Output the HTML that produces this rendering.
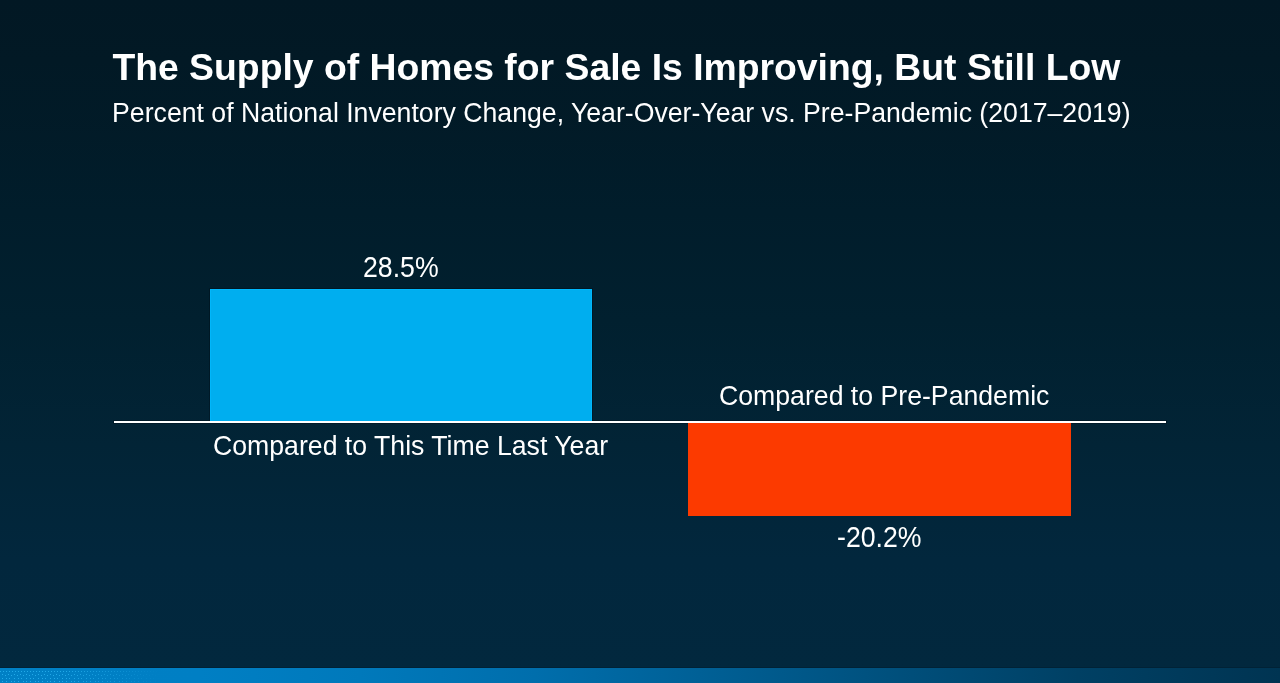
<!DOCTYPE html>
<html lang="en">
<head>
<meta charset="utf-8">
<title>The Supply of Homes for Sale Is Improving, But Still Low</title>
<style>
  html, body { margin: 0; padding: 0; }
  body {
    width: 1280px; height: 683px; overflow: hidden; position: relative;
    font-family: "Liberation Sans", sans-serif;
    color: #ffffff;
    background: linear-gradient(to bottom,
      #021824 0px, #021925 60px, #011D2B 212px, #01202F 320px,
      #022436 445px, #02273D 560px, #02283E 668px);
  }
  .abs { position: absolute; white-space: nowrap; line-height: 1; margin: 0; }
  #title { left: 112.4px; top: 48.8px; font-size: 37.33px; font-weight: bold; }
  #subtitle { left: 112.1px; top: 99.8px; font-size: 26.67px; font-weight: normal; }
  #bar-blue { left: 210px; top: 289px; width: 382px; height: 132px; background: #00AEEF;
    /* faint sharpening halo visible in the reference */
    box-shadow: 0 0 0 1px rgba(0,6,12,.30), inset 1px 0 0 #00B7FB, inset -1px 0 0 #00B7FB, inset 0 1px 0 #00B7FB; }
  #bar-orange { left: 688px; top: 423px; width: 383px; height: 93px; background: #FC3A00; }
  #axis { left: 114px; top: 421px; width: 1052px; height: 2px; background: #ffffff; }
  #axis-halo { left: 113px; top: 420px; width: 1054px; height: 4px; background: rgba(0,6,12,.30); }
  .lbl { font-size: 26.67px; }
  /* reference glyphs are slightly taller than Liberation Sans at equal width:
     digits/caps need ~9%, mixed-case text ~3% (ascenders already tall) */
  .tall { transform: scaleY(1.09); transform-origin: 0 84.64%; }
  .tall-lc { transform: scaleY(1.03); transform-origin: 0 84.64%; }
  #val-blue { left: 363px; top: 255px; }
  #val-orange { left: 837px; top: 524.9px; }
  #cat-blue { left: 213px; top: 432.7px; }
  #cat-orange { left: 719px; top: 382.7px; }
  #strip { left: 0; top: 668px; width: 1280px; height: 15px;
    background: linear-gradient(to right,
      #0080C5 0px, #007FC4 200px, #0079BB 360px, #006EAC 535px,
      #00598B 782px, #004064 1078px, #003452 1280px);
    box-shadow: 0 -1px 0 rgba(0,10,20,.18); }
  /* sparse light dots at the far-left of the strip (palette dither in the reference) */
  #dots { left: 0; top: 668px; width: 170px; height: 15px; display: block;
    -webkit-mask-image: linear-gradient(to right, #000 0, #000 60px, rgba(0,0,0,.55) 110px, transparent 160px);
            mask-image: linear-gradient(to right, #000 0, #000 60px, rgba(0,0,0,.55) 110px, transparent 160px); }
</style>
</head>
<body>
  <h1 id="title" class="abs">The Supply of Homes for Sale Is Improving, But Still Low</h1>
  <p id="subtitle" class="abs tall-lc">Percent of National Inventory Change, Year-Over-Year vs. Pre-Pandemic (2017–2019)</p>

  <div id="axis-halo" class="abs"></div>
  <div id="bar-blue" class="abs"></div>
  <div id="bar-orange" class="abs"></div>
  <div id="axis" class="abs"></div>

  <div id="val-blue" class="abs lbl tall">28.5%</div>
  <div id="cat-blue" class="abs lbl tall-lc">Compared to This Time Last Year</div>
  <div id="cat-orange" class="abs lbl tall-lc">Compared to Pre-Pandemic</div>
  <div id="val-orange" class="abs lbl tall">-20.2%</div>

  <div id="strip" class="abs"></div>
  <svg id="dots" class="abs" width="170" height="15" viewBox="0 0 170 15" aria-hidden="true">
    <defs>
      <pattern id="dotpat" width="12" height="15" patternUnits="userSpaceOnUse">
        <g fill="#22A9E8">
          <rect x="0" y="3" width="1" height="1"/><rect x="3" y="3" width="1" height="1"/><rect x="6" y="3" width="1" height="1"/><rect x="9" y="3" width="1" height="1"/>
          <rect x="2" y="6" width="1" height="1"/><rect x="5" y="7" width="1" height="1"/><rect x="8" y="6" width="1" height="1"/><rect x="11" y="7" width="1" height="1"/>
          <rect x="2" y="10" width="1" height="1"/><rect x="6" y="10" width="1" height="1"/><rect x="9" y="10" width="1" height="1"/>
          <rect x="2" y="13" width="1" height="1"/><rect x="6" y="13" width="1" height="1"/><rect x="11" y="13" width="1" height="1"/>
        </g>
      </pattern>
    </defs>
    <rect x="0" y="0" width="170" height="15" fill="url(#dotpat)"/>
  </svg>
</body>
</html>
